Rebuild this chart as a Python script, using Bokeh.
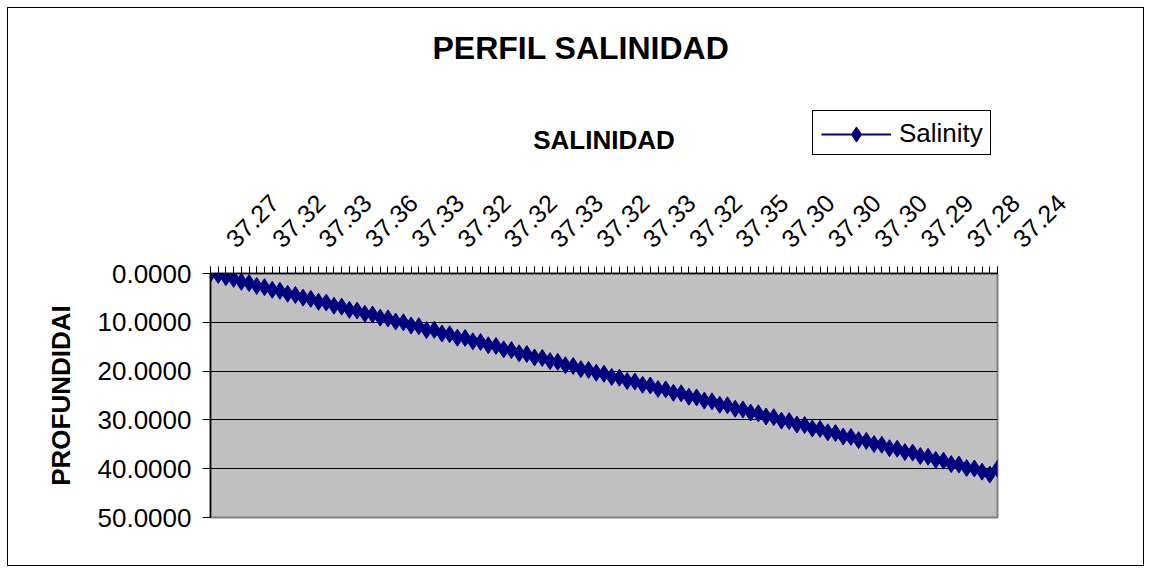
import math
from bokeh.plotting import figure
from bokeh.layouts import column
from bokeh.models import Range1d, FixedTicker, NumeralTickFormatter, Legend, LegendItem, Title
from bokeh.embed import file_html
from bokeh.resources import INLINE

# Salinity at each sample (category axis, only every 6th one is labelled)
salinity = [
    37.27, 37.29, 37.30, 37.31, 37.31, 37.32,
    37.32, 37.32, 37.33, 37.33, 37.32, 37.33,
    37.33, 37.34, 37.34, 37.35, 37.35, 37.36,
    37.36, 37.35, 37.35, 37.34, 37.34, 37.33,
    37.33, 37.33, 37.32, 37.33, 37.32, 37.32,
    37.32, 37.32, 37.33, 37.32, 37.32, 37.32,
    37.32, 37.33, 37.33, 37.32, 37.33, 37.33,
    37.33, 37.33, 37.32, 37.32, 37.33, 37.32,
    37.32, 37.32, 37.33, 37.33, 37.32, 37.33,
    37.33, 37.33, 37.32, 37.33, 37.32, 37.32,
    37.32, 37.33, 37.34, 37.34, 37.35, 37.35,
    37.35, 37.34, 37.33, 37.32, 37.31, 37.31,
    37.30, 37.30, 37.31, 37.30, 37.30, 37.30,
    37.30, 37.30, 37.31, 37.30, 37.30, 37.30,
    37.30, 37.30, 37.29, 37.30, 37.29, 37.29,
    37.29, 37.29, 37.29, 37.28, 37.29, 37.28,
    37.28, 37.28, 37.27, 37.27, 37.26, 37.25,
    37.24,
]

# Depth (PROFUNDIDAD) of each sample
depth = [
    0.00, 0.30, 0.75, 1.10, 1.70, 1.95, 2.55, 2.80, 3.35, 3.55,
    4.15, 4.40, 4.95, 5.20, 5.80, 5.95, 6.60, 6.80, 7.45, 7.60,
    8.25, 8.40, 9.05, 9.20, 9.85, 10.00, 10.65, 10.80, 11.60, 11.55,
    12.30, 12.45, 13.15, 13.20, 13.90, 14.05, 14.70, 14.85, 15.55, 15.70,
    16.35, 16.50, 17.20, 17.30, 17.95, 18.10, 18.80, 18.95, 19.60, 19.75,
    20.35, 20.55, 21.20, 21.35, 22.05, 22.15, 22.80, 22.95, 23.65, 23.75,
    24.45, 24.55, 25.25, 25.40, 26.05, 26.20, 26.90, 27.00, 27.70, 27.85,
    28.50, 28.65, 29.30, 29.45, 30.15, 30.25, 30.95, 31.05, 31.75, 31.85,
    32.55, 32.70, 33.40, 33.50, 34.15, 34.30, 34.95, 35.10, 35.80, 35.90,
    36.60, 36.70, 37.40, 37.55, 38.20, 38.35, 39.05, 39.15, 39.85, 39.95,
    40.60, 41.20, 40.00,
]

depth_ticks = [0, 10, 20, 30, 40, 50]
label_every = 6
series_name = "Salinity"

FONT = "Liberation Sans"
NAVY = "#000080"
PAD = "\u2007\u2007"  # figure spaces: push the slanted labels off their tick like Excel does

idx = list(range(len(salinity)))

p = figure(
    width=1137, height=559,
    x_range=Range1d(0, len(salinity) - 1),
    y_range=Range1d(50, 0),
    x_axis_location="above",
    output_backend="svg", toolbar_location=None,
    min_border_left=202, min_border_top=265,
    min_border_right=148, min_border_bottom=50,
)
p.styles = {"border": "1px solid black", "margin-left": "7px", "margin-top": "7px"}

p.title.text = "PERFIL SALINIDAD"
p.title.align = "left"
p.title.offset = 222
p.title.vertical_align = "top"
p.title.text_font = FONT
p.title.text_font_size = "32px"
p.title.text_font_style = "bold"
p.title.text_color = "black"
p.title.standoff = 40

p.background_fill_color = "#C0C0C0"
p.border_fill_color = "white"
p.outline_line_color = "#808080"
p.outline_line_width = 2

# x axis (top) : categories
xa = p.xaxis[0]
xa.ticker = FixedTicker(ticks=idx[::label_every], minor_ticks=idx)
xa.major_label_overrides = {i: PAD + "%.2f" % salinity[i] for i in idx[::label_every]}
xa.major_label_orientation = math.pi / 4
xa.major_label_text_font = FONT
xa.major_label_text_font_size = "25px"
xa.major_label_text_color = "black"
xa.major_label_standoff = 4
xa.major_tick_out = 7
xa.major_tick_in = 0
xa.minor_tick_out = 7
xa.minor_tick_in = 0
xa.major_tick_line_color = "black"
xa.minor_tick_line_color = "black"
xa.axis_line_color = "black"
xa.axis_line_width = 1.5
xa.axis_label = "SALINIDAD"
xa.axis_label_text_font = FONT
xa.axis_label_text_font_size = "26px"
xa.axis_label_text_font_style = "bold"
xa.axis_label_text_color = "black"
xa.axis_label_standoff = 21

# blank spacer between the axis block and the chart title
p.add_layout(Title(text=" ", text_font_size="1px", standoff=31), "above")

# y axis (left): depth, reversed
ya = p.yaxis[0]
ya.ticker = FixedTicker(ticks=depth_ticks)
ya.formatter = NumeralTickFormatter(format="0.0000")
ya.major_label_text_font = FONT
ya.major_label_text_font_size = "26px"
ya.major_label_text_color = "black"
ya.major_label_standoff = 11
ya.major_tick_out = 8
ya.major_tick_in = 0
ya.minor_tick_line_color = None
ya.major_tick_line_color = "black"
ya.axis_line_color = "black"
ya.axis_line_width = 1.5
ya.axis_label = "PROFUNDIDAI"
ya.axis_label_text_font = FONT
ya.axis_label_text_font_size = "26px"
ya.axis_label_text_font_style = "bold"
ya.axis_label_text_color = "black"
ya.axis_label_standoff = 19

p.xgrid.grid_line_color = None
p.ygrid.ticker = FixedTicker(ticks=depth_ticks)
p.ygrid.grid_line_color = "black"
p.ygrid.grid_line_width = 1.2

p.line(idx, depth, line_color=NAVY, line_width=2)
p.scatter(idx, depth, marker="diamond", size=17, fill_color=NAVY, line_color=NAVY)

# Legend box (separate small figure laid over the chart, above the plot area);
# its renderers show the same series but its ranges keep the data out of view.
lg = figure(
    width=179, height=45, output_backend="svg", toolbar_location=None,
    x_axis_location=None, y_axis_location=None, min_border=0,
    x_range=Range1d(-20, -10), y_range=Range1d(-20, -10),
)
lg.outline_line_color = None
lg.grid.grid_line_color = None
lg.background_fill_color = "white"
lg.border_fill_color = "white"
lg.styles = {"position": "absolute", "left": "812px", "top": "110px",
             "border": "1px solid black"}
l_ln = lg.line(idx, depth, line_color=NAVY, line_width=2)
l_sc = lg.scatter(idx, depth, marker="diamond", size=17, fill_color=NAVY, line_color=NAVY)
legend = Legend(
    items=[LegendItem(label=series_name, renderers=[l_ln, l_sc])],
    location="left",
    label_text_font=FONT, label_text_font_size="26px", label_text_color="black",
    glyph_width=70, glyph_height=38, label_standoff=8,
    padding=3, margin=6, spacing=0,
    border_line_color=None, background_fill_alpha=0,
)
lg.add_layout(legend, "center")

layout = column(p, lg)
open("out.html", "w").write(file_html(layout, INLINE))
